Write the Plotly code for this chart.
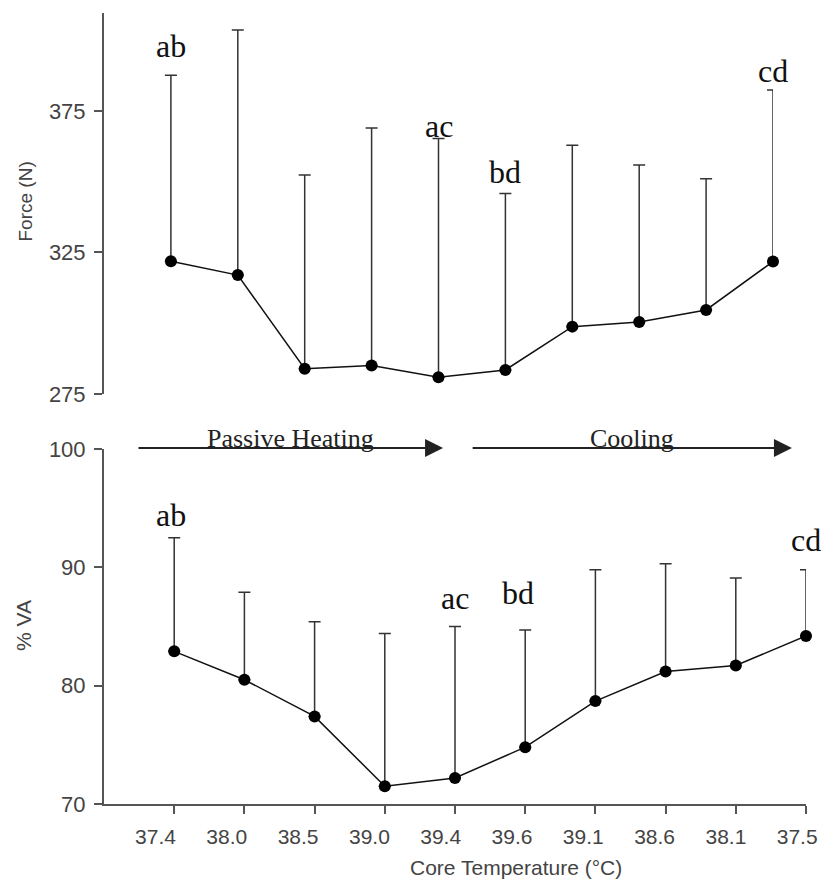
import plotly.graph_objects as go

# ---- data ----
temps = ["37.4", "38.0", "38.5", "39.0", "39.4", "39.6", "39.1", "38.6", "38.1", "37.5"]
stage = list(range(1, 11))

force_mean = [321.9, 317.0, 283.9, 285.1, 280.9, 283.5, 298.8, 300.4, 304.7, 321.8]
force_sd = [65.7, 86.6, 68.5, 83.9, 84.4, 62.3, 64.1, 55.5, 46.3, 60.6]
force_sig = ["ab", "", "", "", "ac", "bd", "", "", "", "cd"]

va_mean = [82.9, 80.5, 77.4, 71.5, 72.2, 74.8, 78.7, 81.2, 81.7, 84.2]
va_sd = [9.6, 7.4, 8.0, 12.9, 12.8, 9.9, 11.1, 9.1, 7.4, 5.6]
va_sig = ["ab", "", "", "", "ac", "bd", "", "", "", "cd"]

force_ticks = [275, 325, 375]
va_ticks = [70, 80, 90, 100]

phases = ["Passive Heating", "Cooling"]

# ---- styling ----
W, H = 824, 880
AX = "#555555"
TXT = "#444444"
SANS = "Liberation Sans, Arial, sans-serif"
SERIF = "Liberation Serif, Times New Roman, serif"


def px(x):
    return x / W


def py(y):
    return 1 - y / H


fig = go.Figure()

for xa, ya, mean, sd in [("x", "y", force_mean, force_sd), ("x2", "y2", va_mean, va_sd)]:
    fig.add_trace(go.Scatter(
        x=stage, y=mean, xaxis=xa, yaxis=ya, mode="lines+markers",
        line=dict(color="#111111", width=1.5),
        marker=dict(color="#000000", size=12),
        error_y=dict(type="data", symmetric=False, array=sd,
                     arrayminus=[0] * len(sd), color="#333333",
                     thickness=1.5, width=6),
        showlegend=False, hoverinfo="skip", cliponaxis=False,
    ))

# invisible carrier trace so the tick-label axis (x3) is drawn
fig.add_trace(go.Scatter(x=stage, y=va_mean, xaxis="x3", yaxis="y2", mode="markers",
                         marker=dict(opacity=0, size=1), showlegend=False,
                         hoverinfo="skip"))

axis_common = dict(showline=True, linecolor=AX, linewidth=2, ticks="outside",
                   ticklen=8, tickwidth=2, tickcolor=AX, showgrid=False,
                   zeroline=False, automargin=False)

fig.update_layout(
    width=W, height=H, margin=dict(l=0, r=0, t=0, b=0, autoexpand=False),
    paper_bgcolor="white", plot_bgcolor="rgba(0,0,0,0)",
    xaxis=dict(domain=[px(104), px(773)], range=[0, 10], visible=False, anchor="y",
               automargin=False),
    yaxis=dict(domain=[py(394), py(13)], range=[275, 409.6], tickvals=force_ticks,
               anchor="x", ticklabelstandoff=4,
               tickfont=dict(family=SANS, size=22, color=TXT), **axis_common),
    xaxis2=dict(domain=[px(104), px(806)], range=[0, 10], tickvals=stage,
                showticklabels=False, anchor="y2", **axis_common),
    # tick labels of the bottom axis sit slightly left of their ticks in the original
    xaxis3=dict(domain=[px(84.2), px(797.2)], range=[0, 10], tickvals=stage,
                ticktext=temps, anchor="y2", showline=False, ticks="", ticklen=0,
                showgrid=False, zeroline=False, automargin=False,
                ticklabelstandoff=18, ticklabeloverflow="allow",
                tickfont=dict(family=SANS, size=21, color=TXT)),
    yaxis2=dict(domain=[py(804), py(449)], range=[70, 100], tickvals=va_ticks,
                anchor="x2", ticklabelstandoff=4,
                tickfont=dict(family=SANS, size=22, color=TXT), **axis_common),
)

ann = []
# significance letters
top_shift = {"ab": (0, 9), "ac": (0, -8), "bd": (0, 2), "cd": (0, -1)}
bot_shift = {"ab": (-3, 3), "ac": (0, 9), "bd": (-7, 17), "cd": (0, 10)}
for xa, ya, mean, sd, sig, shifts in [("x", "y", force_mean, force_sd, force_sig, top_shift),
                                      ("x2", "y2", va_mean, va_sd, va_sig, bot_shift)]:
    for s, m, d, lab in zip(stage, mean, sd, sig):
        if lab:
            xs, ys = shifts[lab]
            ann.append(dict(x=s, y=m + d, xref=xa, yref=ya, text=lab, showarrow=False,
                            xanchor="center", yanchor="bottom", xshift=xs, yshift=ys,
                            font=dict(family=SERIF, size=32, color="#111111")))

# phase arrows (bottom x-axis units) and labels
arrow_spans = [(0.47, 4.83), (5.23, 9.80)]
arrow_y = py(448)
for name, (a, b) in zip(phases, arrow_spans):
    ann.append(dict(x=b, y=arrow_y, xref="x2", yref="paper", ax=a, ay=0,
                    axref="x2", ayref="pixel", text="", showarrow=True,
                    arrowhead=2, arrowsize=1.8, arrowwidth=2, arrowcolor="#222222",
                    standoff=0, startstandoff=0))
    ann.append(dict(x=(a + b) / 2, y=arrow_y, xref="x2", yref="paper", text=name,
                    showarrow=False, xanchor="center", yanchor="bottom", yshift=-7,
                    font=dict(family=SERIF, size=26, color="#222222")))

# axis titles
ann.append(dict(x=px(25.5), y=py(202), xref="paper", yref="paper", text="Force (N)",
                textangle=-90, showarrow=False, xanchor="center", yanchor="middle",
                font=dict(family=SANS, size=19, color=TXT)))
ann.append(dict(x=px(23), y=py(626), xref="paper", yref="paper", text="% VA",
                textangle=-90, showarrow=False, xanchor="center", yanchor="middle",
                font=dict(family=SANS, size=21, color=TXT)))
ann.append(dict(x=px(516), y=py(867), xref="paper", yref="paper",
                text="Core Temperature (°C)", showarrow=False,
                xanchor="center", yanchor="middle",
                font=dict(family=SANS, size=21, color=TXT)))

fig.update_layout(annotations=ann)
fig.write_html("out.html", config={"displayModeBar": False},
               post_script="document.body.style.margin='0';document.body.style.overflow='hidden';")
